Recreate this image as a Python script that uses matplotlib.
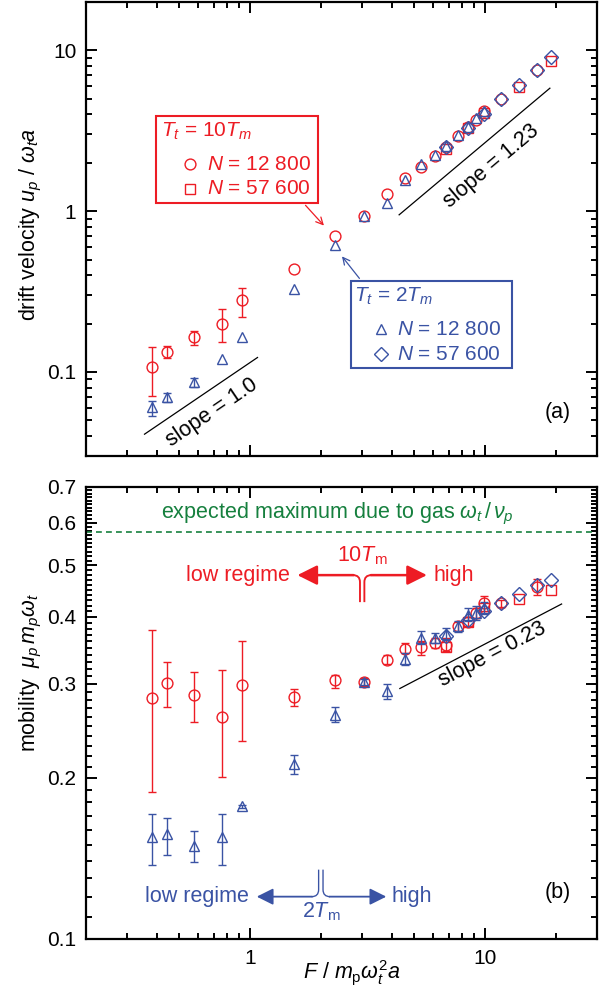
import numpy as np
import matplotlib
matplotlib.use('Agg')
import matplotlib.pyplot as plt
from matplotlib.path import Path
from matplotlib.patches import PathPatch, Rectangle, FancyArrowPatch
from matplotlib.lines import Line2D
from matplotlib.transforms import IdentityTransform
from matplotlib.ticker import NullFormatter

plt.rcParams['font.family'] = ['Liberation Sans', 'DejaVu Sans']
plt.rcParams['mathtext.fontset'] = 'custom'
plt.rcParams['mathtext.rm'] = 'Liberation Sans'
plt.rcParams['mathtext.it'] = 'Liberation Sans:italic'
plt.rcParams['mathtext.bf'] = 'Liberation Sans:bold'

RED = '#ed1c24'
BLUE = '#3a53a4'
GREEN = '#16803e'

# --- T_t = 10 T_m, N = 12 800 (circles) ---
f_red = [0.382, 0.442, 0.579, 0.761, 0.923, 1.535, 2.29, 3.06, 3.82, 4.56,
         5.35, 6.10, 6.84, 7.67, 8.43, 9.20, 9.92, 11.7, 16.6]
u_red = [0.108, 0.134, 0.164, 0.200, 0.279, 0.434, 0.700, 0.931, 1.27, 1.60,
         1.88, 2.20, 2.51, 2.92, 3.34, 3.71, 4.18, 4.99, 7.60]
u_red_lo = [0.0713, 0.1217, 0.147, 0.154, 0.219, 0.434, 0.700, 0.931, 1.27, 1.60,
            1.88, 2.20, 2.51, 2.92, 3.34, 3.71, 4.18, 4.99, 7.60]
u_red_hi = [0.1436, 0.1456, 0.180, 0.245, 0.334, 0.434, 0.700, 0.931, 1.27, 1.60,
            1.88, 2.20, 2.51, 2.92, 3.34, 3.71, 4.18, 4.99, 7.60]
mu_red = [0.282, 0.301, 0.286, 0.260, 0.299, 0.284, 0.305, 0.302, 0.333, 0.349,
          0.351, 0.357, 0.355, 0.384, 0.392, 0.407, 0.424, 0.424, 0.456]
mu_red_lo = [0.188, 0.272, 0.255, 0.201, 0.235, 0.273, 0.295, 0.297, 0.327, 0.343,
             0.340, 0.350, 0.345, 0.377, 0.384, 0.398, 0.410, 0.418, 0.440]
mu_red_hi = [0.378, 0.329, 0.315, 0.318, 0.361, 0.294, 0.311, 0.307, 0.340, 0.357,
             0.360, 0.365, 0.366, 0.391, 0.400, 0.416, 0.437, 0.430, 0.472]

# --- T_t = 10 T_m, N = 57 600 (squares) ---
f_red_sq = [6.84, 8.43, 9.92, 13.9, 19.1]
u_red_sq = [2.45, 3.30, 4.10, 5.93, 8.55]
mu_red_sq = [0.352, 0.392, 0.415, 0.432, 0.449]

# --- T_t = 2 T_m, N = 12 800 (triangles) ---
f_blue = [0.382, 0.442, 0.579, 0.761, 0.923, 1.535, 2.29, 3.06, 3.82, 4.56,
          5.35, 6.10, 6.84, 7.67, 8.43, 9.20, 9.92]
u_blue = [0.0604, 0.0694, 0.0864, 0.121, 0.165, 0.327, 0.612, 0.935, 1.13, 1.57,
          1.97, 2.24, 2.56, 2.98, 3.36, 3.79, 4.17]
u_blue_lo = [0.0529, 0.0650, 0.081, 0.121, 0.165, 0.327, 0.612, 0.935, 1.13, 1.57,
             1.97, 2.24, 2.56, 2.98, 3.36, 3.79, 4.17]
u_blue_hi = [0.0656, 0.0740, 0.092, 0.121, 0.165, 0.327, 0.612, 0.935, 1.13, 1.57,
             1.97, 2.24, 2.56, 2.98, 3.36, 3.79, 4.17]
mu_blue = [0.155, 0.157, 0.149, 0.155, 0.177, 0.212, 0.2625, 0.302, 0.291, 0.3335,
           0.366, 0.366, 0.372, 0.384, 0.404, 0.407, 0.416]
mu_blue_lo = [0.1375, 0.1436, 0.1396, 0.1375, 0.1755, 0.2032, 0.2547, 0.298, 0.281, 0.326,
              0.356, 0.358, 0.362, 0.375, 0.393, 0.395, 0.405]
mu_blue_hi = [0.1716, 0.1686, 0.159, 0.1712, 0.178, 0.2207, 0.2715, 0.306, 0.2998, 0.342,
              0.376, 0.374, 0.382, 0.393, 0.415, 0.420, 0.427]

# --- T_t = 2 T_m, N = 57 600 (diamonds) ---
f_blue_dm = [6.84, 8.43, 9.92, 11.7, 13.9, 16.6, 19.1]
u_blue_dm = [2.50, 3.30, 4.05, 4.99, 6.12, 7.59, 9.10]
mu_blue_dm = [0.368, 0.395, 0.410, 0.424, 0.442, 0.459, 0.470]

# guide lines (x pair, y pair)
slope10_x, slope10_y = [0.355, 1.075], [0.041, 0.123]
slope123_x, slope123_y = [4.31, 18.9], [0.949, 5.82]
slope023_x, slope023_y = [4.34, 21.2], [0.294, 0.423]
gas_limit = 0.577

W, H = 609, 994
fig = plt.figure(figsize=(W / 100, H / 100), dpi=100)
ax1 = fig.add_axes([86 / W, 1 - 456 / H, 511 / W, 454 / H])
ax2 = fig.add_axes([86 / W, 1 - 939 / H, 511 / W, 452 / H])

x_major = [1, 10]
x_minor = [0.2, 0.3, 0.4, 0.5, 0.6, 0.7, 0.8, 0.9, 2, 3, 4, 5, 6, 7, 8, 9, 20]


def style(ax):
    ax.set_xscale('log')
    ax.set_yscale('log')
    ax.set_xlim(0.2, 30)
    ax.set_xticks(x_major, labels=['1', '10'])
    ax.set_xticks(x_minor, minor=True)
    ax.xaxis.set_minor_formatter(NullFormatter())
    ax.tick_params(which='both', direction='in', top=True, right=True,
                   width=1.4, labelsize=15, pad=7)
    ax.tick_params(which='major', length=8)
    ax.tick_params(which='minor', length=4.5)
    for s in ax.spines.values():
        s.set_linewidth(1.6)


def points(ax, x, y, lo, hi, marker, color, ms):
    x, y, lo, hi = map(np.asarray, (x, y, lo, hi))
    has_err = hi > lo
    if has_err.any():
        ax.errorbar(x[has_err], y[has_err],
                    yerr=[y[has_err] - lo[has_err], hi[has_err] - y[has_err]],
                    fmt='none', ecolor=color, elinewidth=1.0, capsize=3.2,
                    capthick=1.0)
    ax.plot(x, y, ls='none', marker=marker, ms=ms, mfc='none', mec=color, mew=1.0)


# ---------------- (a) drift velocity ----------------
style(ax1)
ax1.set_ylim(0.03, 20)
ax1.set_yticks([0.1, 1, 10], labels=['0.1', '1', '10'])
ax1.set_yticks([0.03, 0.04, 0.05, 0.06, 0.07, 0.08, 0.09,
                0.2, 0.3, 0.4, 0.5, 0.6, 0.7, 0.8, 0.9,
                2, 3, 4, 5, 6, 7, 8, 9, 20], minor=True)
ax1.yaxis.set_minor_formatter(NullFormatter())
ax1.tick_params(axis='x', labelbottom=False)

points(ax1, f_red, u_red, u_red_lo, u_red_hi, 'o', RED, 7.8)
points(ax1, f_red_sq, u_red_sq, u_red_sq, u_red_sq, 's', RED, 6.5)
points(ax1, f_blue, u_blue, u_blue_lo, u_blue_hi, '^', BLUE, 7.8)
points(ax1, f_blue_dm, u_blue_dm, u_blue_dm, u_blue_dm, 'D', BLUE, 6.8)

ax1.plot(slope10_x, slope10_y, color='black', lw=0.9)
ax1.plot(slope123_x, slope123_y, color='black', lw=0.9)

ax1.set_ylabel(r'drift velocity $u_p\ /\ \omega_t a$', fontsize=15.5)
ax1.yaxis.set_label_coords(-0.083, 0.51)
ax1.text(0.924, 0.095, '(a)', transform=ax1.transAxes, fontsize=15.5,
         ha='center', va='center')

# ---------------- (b) mobility ----------------
style(ax2)
ax2.set_ylim(0.1, 0.7)
major_b = [0.1, 0.2, 0.3, 0.4, 0.5, 0.6, 0.7]
ax2.set_yticks(major_b, labels=['0.1', '0.2', '0.3', '0.4', '0.5', '0.6', '0.7'])
minor_b = [round(v, 2) for v in np.arange(0.11, 0.70, 0.01)
           if round(v, 2) not in major_b]
ax2.set_yticks(minor_b, minor=True)
ax2.yaxis.set_minor_formatter(NullFormatter())

points(ax2, f_red, mu_red, mu_red_lo, mu_red_hi, 'o', RED, 7.8)
points(ax2, f_red_sq, mu_red_sq, mu_red_sq, mu_red_sq, 's', RED, 6.5)
points(ax2, f_blue, mu_blue, mu_blue_lo, mu_blue_hi, '^', BLUE, 7.8)
points(ax2, f_blue_dm, mu_blue_dm, mu_blue_dm, mu_blue_dm, 'D', BLUE, 6.8)

ax2.plot(slope023_x, slope023_y, color='black', lw=0.9)
ax2.axhline(gas_limit, color=GREEN, ls=(0, (3.5, 2.5)), lw=1.2)
ax2.text(2.36, 0.623, r'expected maximum due to gas $\omega_t\,/\,\nu_p$',
         color=GREEN, fontsize=15.5, ha='center', va='center')

ax2.set_ylabel(r'mobility  $\mu_p\,m_p\omega_t$', fontsize=15.5)
ax2.yaxis.set_label_coords(-0.083, 0.59)
ax2.set_xlabel(r'$F\ /\ m_{\rm p}\omega_t^2 a$', fontsize=15.5)
ax2.xaxis.set_label_coords(0.52, -0.043)
ax2.text(0.924, 0.102, '(b)', transform=ax2.transAxes, fontsize=15.5,
         ha='center', va='center')

# slope labels, rotated along their guide lines
for ax, xs, ys, txt, pos in [
        (ax1, slope10_x, slope10_y, 'slope = 1.0', (0.69, 0.0555)),
        (ax1, slope123_x, slope123_y, 'slope = 1.23', (10.6, 1.90)),
        (ax2, slope023_x, slope023_y, 'slope = 0.23', (10.8, 0.340))]:
    p = ax.transData.transform(list(zip(xs, ys)))
    ang = np.degrees(np.arctan2(p[1, 1] - p[0, 1], p[1, 0] - p[0, 0]))
    ax.text(pos[0], pos[1], txt, rotation=ang, rotation_mode='anchor',
            ha='center', va='center', fontsize=15.5)


# ---------------- legends of panel (a) ----------------
def fp(x, y):
    return x / W, 1 - y / H


def legend_box(x0, y0, x1, y1, color):
    fig.add_artist(Rectangle(fp(x0, y1), (x1 - x0) / W, (y1 - y0) / H,
                             transform=fig.transFigure, fill=False,
                             ec=color, lw=1.5))


def legend_entry(mx, ty, tx, marker, ms, color, txt):
    fig.add_artist(Line2D([mx / W], [1 - (ty - 6) / H], transform=fig.transFigure,
                          marker=marker, ms=ms, mfc='none', mec=color, mew=1.0))
    fig.text(*fp(tx, ty), txt, color=color, fontsize=15, va='baseline')


legend_box(156, 116, 317.5, 203, RED)
fig.text(*fp(161, 136.5), r'$T_t$ = 10$T_m$', color=RED, fontsize=15, va='baseline')
legend_entry(190, 170, 207, 'o', 7.8, RED, r'$N$ = 12 800')
legend_entry(190, 194.5, 207, 's', 6.5, RED, r'$N$ = 57 600')

legend_box(350.5, 281.5, 511.5, 368, BLUE)
fig.text(*fp(354, 301.5), r'$T_t$ = 2$T_m$', color=BLUE, fontsize=15, va='baseline')
legend_entry(381, 335, 397, '^', 7.8, BLUE, r'$N$ = 12 800')
legend_entry(381, 359.5, 397, 'D', 6.8, BLUE, r'$N$ = 57 600')

ax1.annotate('', xy=(2.10, 0.79), xytext=(1.69, 1.12),
             arrowprops=dict(arrowstyle='->,head_length=0.5,head_width=0.25',
                             color=RED, lw=0.9))
ax1.annotate('', xy=(2.42, 0.54), xytext=(2.97, 0.37),
             arrowprops=dict(arrowstyle='->,head_length=0.5,head_width=0.25',
                             color=BLUE, lw=0.9))


# ---------------- regime markers in panel (b) ----------------
def regime(ax, xc, yc, x_left, x_right, color, down, lw, hl, hw, stem):
    cx, cy = ax.transData.transform((xc, yc))
    lx, _ = ax.transData.transform((x_left, yc))
    rx, _ = ax.transData.transform((x_right, yc))
    r, g = 7.0, 2.2
    sgn = -1 if down else 1
    verts = [(cx - g - r, cy), (cx - g, cy), (cx - g, cy + sgn * r), (cx - g, cy + sgn * stem),
             (cx + g + r, cy), (cx + g, cy), (cx + g, cy + sgn * r), (cx + g, cy + sgn * stem)]
    codes = [Path.MOVETO, Path.CURVE3, Path.CURVE3, Path.LINETO] * 2
    fig.add_artist(PathPatch(Path(verts, codes), transform=IdentityTransform(),
                             fill=False, ec=color, lw=lw * 0.75))
    style_ = f'-|>,head_length={hl},head_width={hw}'
    for a, b in [((cx - g - r + 0.5, cy), (lx, cy)), ((cx + g + r - 0.5, cy), (rx, cy))]:
        fig.add_artist(FancyArrowPatch(a, b, transform=IdentityTransform(),
                                       arrowstyle=style_, mutation_scale=1,
                                       color=color, lw=lw, shrinkA=0, shrinkB=0))


regime(ax2, 3.0, 0.479, 1.59, 5.66, RED, True, 1.8, 12, 6, 27)
ax2.text(1.47, 0.479, 'low regime', color=RED, fontsize=15.5, ha='right', va='center')
ax2.text(6.04, 0.479, 'high', color=RED, fontsize=15.5, ha='left', va='center')
ax2.text(3.0, 0.521, r'10$T_{\rm m}$', color=RED, fontsize=15.5, ha='center', va='center')

regime(ax2, 2.0, 0.120, 1.067, 3.80, BLUE, False, 1.3, 10, 5, 27)
ax2.text(0.99, 0.120, 'low regime', color=BLUE, fontsize=15.5, ha='right', va='center')
ax2.text(3.99, 0.120, 'high', color=BLUE, fontsize=15.5, ha='left', va='center')
ax2.text(2.0, 0.1125, r'2$T_{\rm m}$', color=BLUE, fontsize=15.5, ha='center', va='center')

fig.savefig('out.png', dpi=100)
